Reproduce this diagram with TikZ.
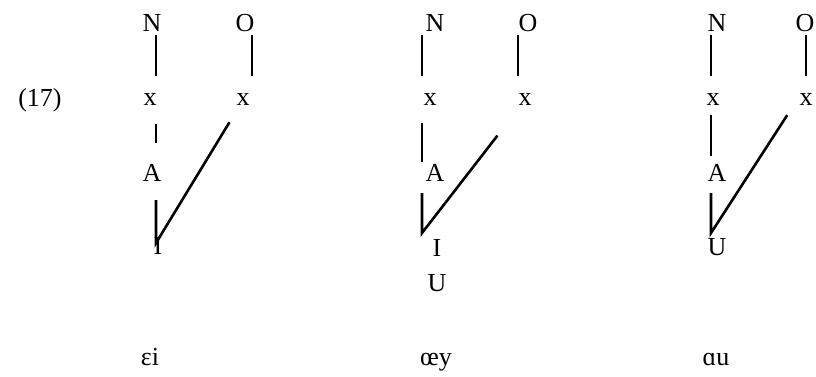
\documentclass[tikz,border=0pt]{standalone}
\usepackage{fontspec}
\setmainfont{Liberation Serif}
\begin{document}
\begin{tikzpicture}[x=1pt,y=-1pt,font=\fontsize{26}{31}\selectfont,
    seg/.style={inner sep=0pt},
    link/.style={line width=2.6pt}]
  \useasboundingbox (0,0) rectangle (816,377);
  \node[seg] (ex) at (40,100) {(17)};
  % columns and joints
  \coordinate (c1) at (156,0);  \coordinate (d1) at (252,0);
  \coordinate (c2) at (422,0);  \coordinate (d2) at (518,0);
  \coordinate (c3) at (711,0);  \coordinate (d3) at (806,0);
  \coordinate (j1) at (156,243);
  \coordinate (j2) at (422,233);
  \coordinate (j3) at (711,233);
  % first tree
  \node[seg] (N1) at (152,23) {N};
  \node[seg] (O1) at (245,23) {O};
  \node[seg] (xa1) at (150,100) {x};
  \node[seg] (xb1) at (243,100) {x};
  \node[seg] (A1) at (152,173) {A};
  \node[seg] (I1) at (158,246) {I};
  \draw[link,shorten <=12pt,shorten >=24pt] (N1.center -| c1) -- (xa1.center -| c1);
  \draw[link,shorten <=12pt,shorten >=24pt] (O1.center -| d1) -- (xb1.center -| d1);
  \draw[link,shorten <=24pt,shorten >=30pt] (xa1.center -| c1) -- (A1.center -| c1);
  \draw[link,shorten <=27pt,shorten >=26pt] (A1.center -| c1) -- (j1) -- (xb1.center);
  % second tree
  \node[seg] (N2) at (435,23) {N};
  \node[seg] (O2) at (528,23) {O};
  \node[seg] (xa2) at (430,100) {x};
  \node[seg] (xb2) at (525,100) {x};
  \node[seg] (A2) at (435,173) {A};
  \node[seg] (I2) at (437,248) {I};
  \node[seg] (U2) at (437,283) {U};
  \draw[link,shorten <=12pt,shorten >=24pt] (N2.center -| c2) -- (xa2.center -| c2);
  \draw[link,shorten <=12pt,shorten >=24pt] (O2.center -| d2) -- (xb2.center -| d2);
  \draw[link,shorten <=23pt,shorten >=11pt] (xa2.center -| c2) -- (A2.center -| c2);
  \draw[link,shorten <=20pt,shorten >=45pt] (A2.center -| c2) -- (j2) -- (xb2.center);
  % third tree
  \node[seg] (N3) at (717,23) {N};
  \node[seg] (O3) at (805,23) {O};
  \node[seg] (xa3) at (713,100) {x};
  \node[seg] (xb3) at (806,100) {x};
  \node[seg] (A3) at (717,173) {A};
  \node[seg] (U3) at (717,247) {U};
  \draw[link,shorten <=12pt,shorten >=24pt] (N3.center -| c3) -- (xa3.center -| c3);
  \draw[link,shorten <=12pt,shorten >=24pt] (O3.center -| d3) -- (xb3.center -| d3);
  \draw[link,shorten <=15pt,shorten >=17pt] (xa3.center -| c3) -- (A3.center -| c3);
  \draw[link,shorten <=20pt,shorten >=18pt] (A3.center -| c3) -- (j3) -- ([xshift=-9pt]xb3.center);
  % diphthongs
  \node[seg,anchor=base] (v1) at (150,365) {ɛi};
  \node[seg,anchor=base] (v2) at (436,365) {œy};
  \node[seg,anchor=base] (v3) at (716,365) {ɑu};
\end{tikzpicture}
\end{document}
